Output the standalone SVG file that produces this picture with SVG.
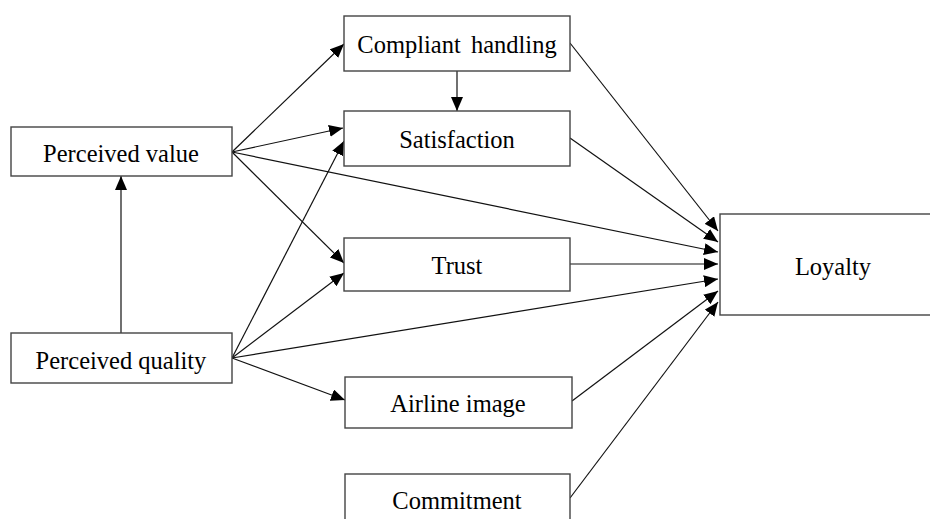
<svg xmlns="http://www.w3.org/2000/svg" width="930" height="519" viewBox="0 0 930 519">
<style>
.box{fill:#fff;stroke:#444;stroke-width:1.4}
.lbl{font-family:"Liberation Serif","Times New Roman",serif;font-size:24.5px;fill:#000;text-anchor:middle}
.edge{fill:none;stroke:#111;stroke-width:1.2;marker-end:url(#ah)}
</style>
<defs>
<marker id="ah" markerUnits="userSpaceOnUse" markerWidth="14" markerHeight="12" viewBox="0 0 14 12" refX="14" refY="6" orient="auto">
<path d="M0,0 L14,6 L0,12 z" fill="#000"/>
</marker>
</defs>
<rect width="930" height="519" fill="#fff"/>
<g id="connectors">
<line class="edge" x1="232" y1="152" x2="344" y2="44"/>
<line class="edge" x1="232" y1="152" x2="343" y2="128"/>
<line class="edge" x1="232" y1="152" x2="344" y2="263"/>
<line class="edge" x1="232" y1="152" x2="718" y2="252"/>
<line class="edge" x1="121" y1="333" x2="121" y2="176"/>
<line class="edge" x1="232" y1="358" x2="344" y2="141"/>
<line class="edge" x1="232" y1="358" x2="344" y2="273"/>
<line class="edge" x1="232" y1="358" x2="718" y2="279"/>
<line class="edge" x1="232" y1="358" x2="345" y2="400"/>
<line class="edge" x1="457" y1="71" x2="457" y2="111"/>
<line class="edge" x1="570" y1="43" x2="718" y2="231"/>
<line class="edge" x1="570" y1="138" x2="718" y2="242"/>
<line class="edge" x1="570" y1="264" x2="718" y2="264"/>
<line class="edge" x1="572" y1="401" x2="718" y2="291"/>
<line class="edge" x1="570" y1="498" x2="718" y2="302"/>
</g>
<g id="perceived-value"><rect class="box" x="11" y="127" width="221" height="49"/><text class="lbl" x="121" y="162">Perceived value</text></g>
<g id="perceived-quality"><rect class="box" x="11" y="333" width="221" height="50"/><text class="lbl" x="121" y="369">Perceived quality</text></g>
<g id="compliant-handling"><rect class="box" x="344" y="16" width="226" height="55"/><text class="lbl" x="457" y="53" word-spacing="4">Compliant handling</text></g>
<g id="satisfaction"><rect class="box" x="344" y="111" width="226" height="55"/><text class="lbl" x="457" y="148">Satisfaction</text></g>
<g id="trust"><rect class="box" x="344" y="238" width="226" height="53"/><text class="lbl" x="457" y="274">Trust</text></g>
<g id="airline-image"><rect class="box" x="345" y="377" width="227" height="51"/><text class="lbl" x="458" y="412">Airline image</text></g>
<g id="commitment"><rect class="box" x="345" y="474" width="225" height="52"/><text class="lbl" x="457" y="509">Commitment</text></g>
<g id="loyalty"><rect class="box" x="720" y="214" width="226" height="101"/><text class="lbl" x="833" y="275">Loyalty</text></g>
</svg>
